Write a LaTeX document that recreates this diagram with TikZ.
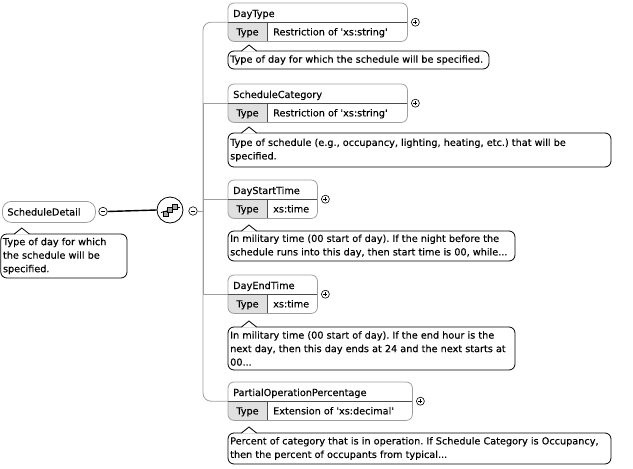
\documentclass[tikz,border=0pt]{standalone}
\usepackage{fontspec}
\setmainfont{DejaVu Sans}
\newfontfamily\lblfont{DejaVu Sans}[FakeBold=0.2]
\usetikzlibrary{calc}
\frenchspacing
\tikzset{
  every node/.style={font=\lblfont\fontsize{9.7pt}{13.5pt}\selectfont\frenchspacing, inner sep=0pt},
  ebox/.style={minimum height=38pt, inner sep=0pt, anchor=north west},
  eborder/.style={draw=black!38, line width=0.8pt},
  divline/.style={draw=black!70, line width=0.8pt},
  typefill/.style={fill=black!12},
  cmtline/.style={draw=black, line width=0.8pt},
  conn/.style={draw=black!38, line width=0.8pt},
  pmcircle/.style={circle, draw=black, line width=0.6pt, minimum size=8pt, inner sep=0pt, fill=white},
}
% element box: #1 name, #2 x, #3 y, #4 width, #5 header, #6 value
\newcommand\elem[6]{%
  \node[ebox, minimum width=#4pt] (#1) at (#2,#3) {};
  \begin{scope}
    \clip[rounded corners=6pt] (#1.north west) rectangle (#1.south east);
    \fill[typefill] (#1.west) rectangle ($(#1.south west)+(39pt,0)$);
  \end{scope}
  \draw[eborder, rounded corners=6pt] (#1.north west) rectangle (#1.south east);
  \draw[divline] (#1.west) -- (#1.east);
  \draw[divline] ($(#1.west)+(39pt,0)$) -- ($(#1.south west)+(39pt,0)$);
  \node[anchor=base west] (#1-h) at ($(#1.north west)+(5pt,-14pt)$) {#5};
  \node[anchor=base] (#1-t) at ($(#1.south west)+(19.5pt,6pt)$) {Type};
  \node[anchor=base west] (#1-v) at ($(#1.south west)+(45pt,6pt)$) {#6};
  \node[pmcircle] (#1-p) at ($(#1.east)+(8pt,0)$) {};
  \draw[line width=0.6pt] ($(#1-p)+(-2pt,0)$) -- ($(#1-p)+(2pt,0)$)
                          ($(#1-p)+(0,-2pt)$) -- ($(#1-p)+(0,2pt)$);
}
% comment box: #1 name, #2 x0, #3 y0, #4 x1, #5 y1, #6 text
\newcommand\cmt[6]{%
  \coordinate (#1-nw) at (#2,#3);
  \coordinate (#1-se) at (#4,#5);
  \draw[cmtline, fill=white, rounded corners=6pt] (#1-nw) rectangle (#1-se);
  \fill[white] ($(#1-nw)+(13.5pt,-0.7pt)$) -- ($(#1-nw)+(21pt,6pt)$) -- ($(#1-nw)+(28.5pt,-0.7pt)$) -- cycle;
  \draw[cmtline, line join=miter] ($(#1-nw)+(13.5pt,0)$) -- ($(#1-nw)+(21pt,6pt)$) -- ($(#1-nw)+(28.5pt,0)$);
  \node[anchor=west, align=left] (#1) at ($($(#2,#3)!0.5!(#2,#5)$)+(2pt,0)$) {#6};
}
\begin{document}
\frenchspacing
\begin{tikzpicture}[x=1pt, y=-1pt]
\useasboundingbox (0,0) rectangle (633,469);

% root element
\node[draw=black!38, line width=0.8pt, rounded corners=9pt, minimum width=93pt, minimum height=21pt,
      text width=83pt, inner xsep=5pt, align=left, anchor=north west] (sd) at (2,201) {ScheduleDetail};
\node[pmcircle, minimum size=8.5pt] (sdm) at (103,211.5) {};
\draw[line width=0.6pt] ($(sdm)+(-2.2pt,0)$) -- ($(sdm)+(2.2pt,0)$);

% sequence compositor
\node[circle, draw=black, line width=0.8pt, minimum size=26pt, fill=white] (seq) at (170,210) {};
\draw[line width=1.4pt] (sdm.east) -- (seq.west);
\begin{scope}[shift={(seq.center)}, x=1pt, y=1pt]
  \draw[line width=0.7pt] (-9,-2.5) -- (9,2.5);
  \fill (-9.5,-3.3) rectangle (-8,-1.7);
  \fill (8,1.7) rectangle (9.5,3.3);
  \draw[fill=black!35, line width=0.5pt] (-7,-6) rectangle (-2,-1);
  \draw[fill=black!35, line width=0.5pt] (-2.5,-2.5) rectangle (2.5,2.5);
  \draw[fill=black!35, line width=0.5pt] (2,1) rectangle (7,6);
\end{scope}
\node[pmcircle, minimum size=8.5pt] (seqm) at (193,211) {};
\draw[line width=0.6pt] ($(seqm)+(-2.2pt,0)$) -- ($(seqm)+(2.2pt,0)$);
\coordinate (br) at (203,211);
\draw[conn] (seqm.east) -- (br);

% child elements
\elem{dt}{228}{3}{179}{DayType}{Restriction of \textquotesingle xs:string\textquotesingle}
\elem{sc}{228}{84}{179}{ScheduleCategory}{Restriction of \textquotesingle xs:string\textquotesingle}
\elem{dst}{228}{180}{89}{DayStartTime}{xs:time}
\elem{det}{228}{275}{89}{DayEndTime}{xs:time}
\elem{pop}{228}{382}{184}{PartialOperationPercentage}{Extension of \textquotesingle xs:decimal\textquotesingle}

% connectors
\draw[conn, rounded corners=8pt] (br) |- (dt.west);
\draw[conn] (br) |- (sc.west);
\draw[conn] (br) |- (dst.west);
\draw[conn] (br) |- (det.west);
\draw[conn, rounded corners=8pt] (br) |- (pop.west);

% comments
\cmt{c0}{0.8}{234}{127}{278}{Type of day for which\\the schedule will be\\specified.}
\cmt{c1}{228}{51}{489}{69}{Type of day for which the schedule will be specified.}
\cmt{c2}{228}{133}{611}{167}{Type of schedule (e.g., occupancy, lighting, heating, etc.) that will be\\specified.}
\cmt{c3}{228}{231}{515}{261}{In military time (00 start of day). If the night before the\\schedule runs into this day, then start time is 00, while...}
\cmt{c4}{228}{327}{515}{370}{In military time (00 start of day). If the end hour is the\\next day, then this day ends at 24 and the next starts at\\00...}
\cmt{c5}{228}{433}{611}{464}{Percent of category that is in operation. If Schedule Category is Occupancy,\\then the percent of occupants from typical...}
\end{tikzpicture}
\end{document}
